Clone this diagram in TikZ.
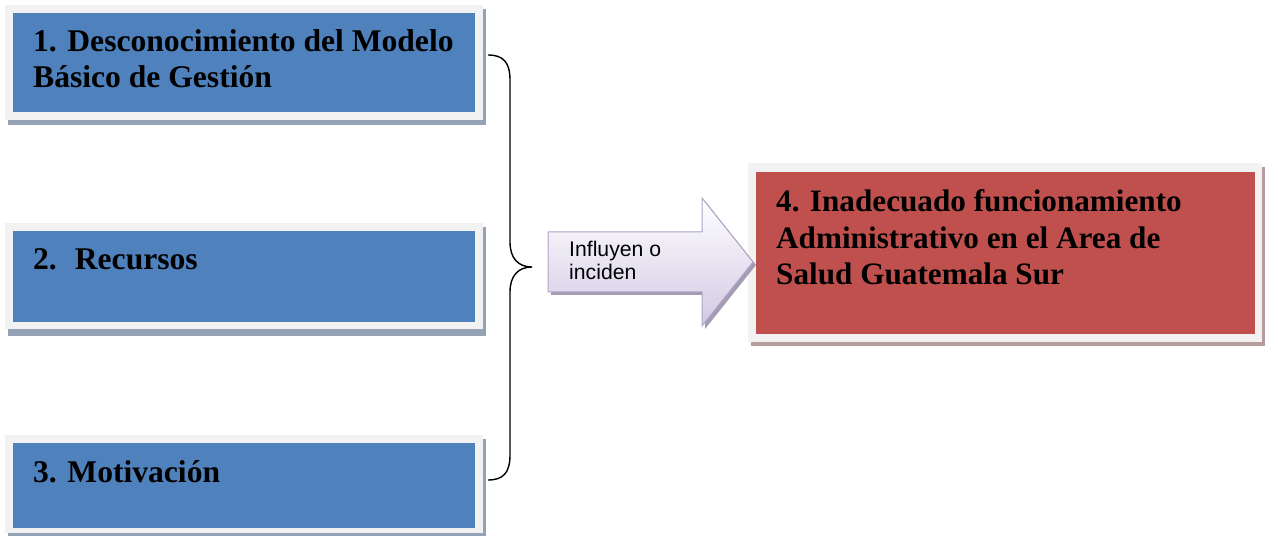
\documentclass[tikz,border=0pt]{standalone}
\usepackage{fontspec}
\setmainfont{Liberation Serif}
\newfontfamily\arialfont{Liberation Sans}
\definecolor{boxblue}{HTML}{4F81BD}
\definecolor{boxred}{HTML}{C0504D}
\definecolor{framegray}{HTML}{F2F2F2}
\definecolor{shadowblue}{HTML}{95A2B5}
\definecolor{shadowred}{HTML}{B89C9C}
\definecolor{arrowedge}{HTML}{B2A3C9}
\definecolor{arrowfill}{HTML}{D2C9E4}
\definecolor{arrowshadow}{HTML}{A49CB3}
\tikzset{
  boxtext/.style={anchor=base west, font=\fontsize{31.6}{36}\selectfont\bfseries, align=left, inner sep=0pt},
  arrowtext/.style={anchor=base west, font=\arialfont\fontsize{21.2}{23.5}\selectfont, align=left, inner sep=0pt},
  outerframe/.style={fill=framegray, draw=none},
  blueshadow/.style={fill=shadowblue, draw=none},
  redshadow/.style={fill=shadowred, draw=none},
  bluebox/.style={fill=boxblue, draw=none},
  redbox/.style={fill=boxred, draw=none},
  bracestyle/.style={draw=black, line width=1.4pt},
}
\begin{document}
\begin{tikzpicture}[x=1pt,y=-1pt]
\useasboundingbox (0,0) rectangle (1278,537);
% box 1
\fill[blueshadow] (8,9) rectangle (486,125);
\fill[outerframe] (5,5) rectangle (483,120);
\fill[bluebox] (13,13) rectangle (475,112);
\node[boxtext] (t1) at (33,88) {1. Desconocimiento del Modelo\\Básico de Gestión};
% box 2
\fill[blueshadow] (8,227) rectangle (486,336);
\fill[outerframe] (5,223) rectangle (483,329);
\fill[bluebox] (13,231) rectangle (475,322);
\node[boxtext] (t2) at (33,270) {2.\hspace{18pt}Recursos};
% box 3
\fill[blueshadow] (8,439) rectangle (486,536);
\fill[outerframe] (5,435) rectangle (483,533);
\fill[bluebox] (13,443) rectangle (475,528);
\node[boxtext] (t3) at (33,482) {3. Motivación};
% box 4
\fill[redshadow] (751,167) rectangle (1265,346);
\fill[outerframe] (748,163) rectangle (1262,342);
\fill[redbox] (756,172) rectangle (1255,334);
\node[boxtext, font=\fontsize{31.2}{36.5}\selectfont\bfseries] (t4) at (776,285) {4. Inadecuado funcionamiento\\Administrativo en el Area de\\Salud Guatemala Sur};
% brace
\coordinate (bt) at (488,55);
\coordinate (bm) at (532,267);
\coordinate (bb) at (488,480);
\draw[bracestyle] (bt) .. controls (503,55) and (510,62) .. (510,80)
  -- (510,242) .. controls (510,258) and (518,267) .. (bm)
  .. controls (518,267) and (510,276) .. (510,292)
  -- (510,455) .. controls (510,473) and (503,480) .. (bb);
% arrow
\fill[arrowshadow] (551,235) -- (705,235) -- (705,201) -- (756,265) -- (705,329) -- (705,295) -- (551,295) -- cycle;
\shade[top color=white, bottom color=arrowfill, draw=arrowedge, line width=1pt]
  (548,232) -- (702,232) -- (702,198) -- (753,262) -- (702,326) -- (702,292) -- (548,292) -- cycle;
\node[arrowtext] (ta) at (569,280) {Influyen o\\inciden};
\end{tikzpicture}
\end{document}
